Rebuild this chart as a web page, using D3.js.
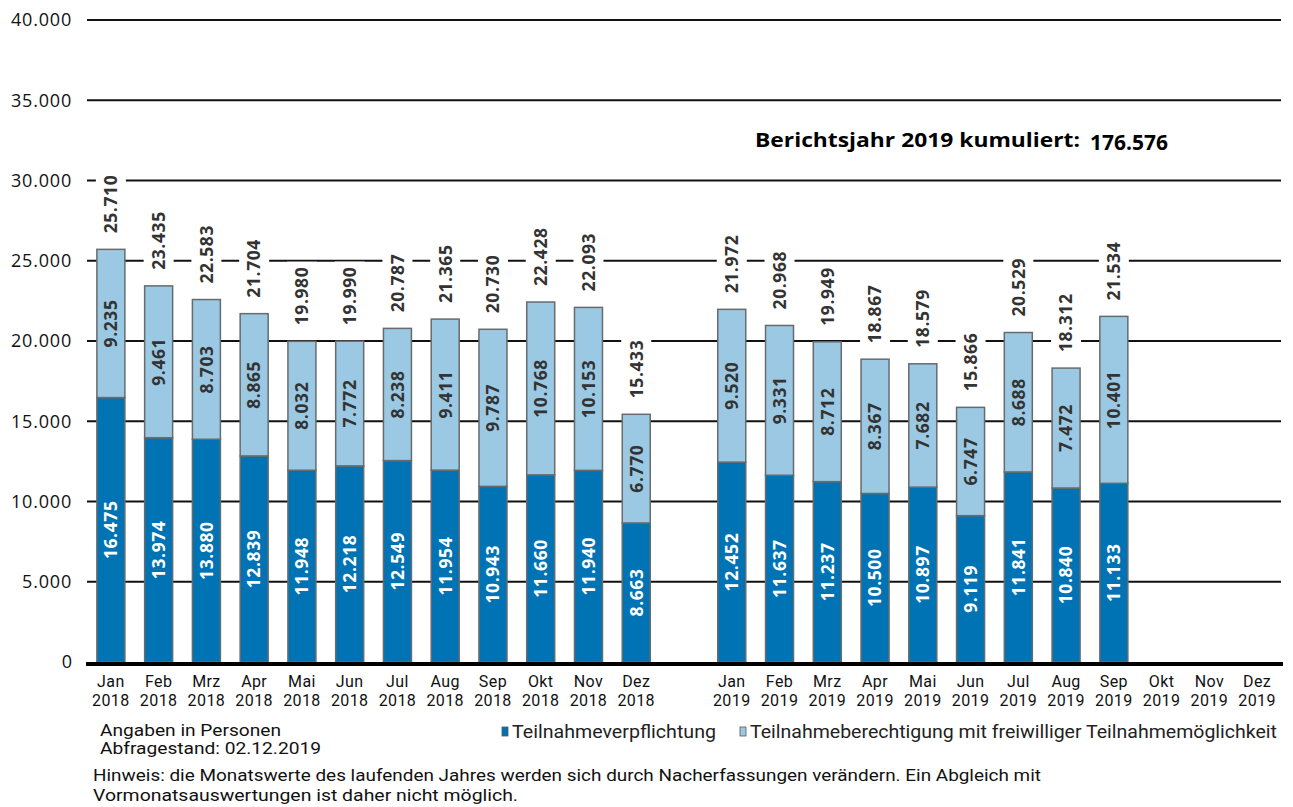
<!DOCTYPE html>
<html>
<head>
<meta charset="utf-8">
<script src="https://cdn.jsdelivr.net/npm/d3@7"></script>
<style>
  body { margin: 0; background: #fff; }
  svg { display: block; font-family: "Open Sans", "Noto Sans", sans-serif; }
</style>
</head>
<body>
<svg id="chart"></svg>
<script>
// data
const months = ["Jan", "Feb", "Mrz", "Apr", "Mai", "Jun", "Jul", "Aug", "Sep", "Okt", "Nov", "Dez"];
const years = ["2018", "2019"];
const pflicht2018 = [16475, 13974, 13880, 12839, 11948, 12218, 12549, 11954, 10943, 11660, 11940, 8663];
const freiwillig2018 = [9235, 9461, 8703, 8865, 8032, 7772, 8238, 9411, 9787, 10768, 10153, 6770];
const pflicht2019 = [12452, 11637, 11237, 10500, 10897, 9119, 11841, 10840, 11133];
const freiwillig2019 = [9520, 9331, 8712, 8367, 7682, 6747, 8688, 7472, 10401];
const yTicks = [0, 5000, 10000, 15000, 20000, 25000, 30000, 35000, 40000];
const kumuliert = 176576;
const seriesNames = ["Teilnahmeverpflichtung", "Teilnahmeberechtigung mit freiwilliger Teilnahmemöglichkeit"];
const colors = ["#0073b5", "#9bc9e3"];

const width = 1293, height = 807;
const fmt = v => d3.format(",")(v).replace(/,/g, ".");

// slots: 12 months 2018, one empty slot, 12 months 2019
const rows = [];
months.forEach((m, i) => rows.push({ key: m + "-" + years[0], month: m, year: years[0], a: pflicht2018[i], b: freiwillig2018[i] }));
rows.push({ key: "gap", month: "", year: "", a: null, b: null });
months.forEach((m, i) => rows.push({ key: m + "-" + years[1], month: m, year: years[1], a: pflicht2019[i] ?? null, b: freiwillig2019[i] ?? null }));

const svg = d3.select("#chart").attr("width", width).attr("height", height);

const x = d3.scaleBand().domain(rows.map(d => d.key)).range([87, 1281]).padding(0);
const y = d3.scaleLinear().domain([0, 40000]).range([662, 20]);
const barW = 28;
const cx = d => x(d.key) + x.bandwidth() / 2;

// gridlines
svg.append("g")
  .selectAll("line")
  .data(yTicks.filter(t => t > 0))
  .join("line")
  .attr("x1", 87).attr("x2", 1281)
  .attr("y1", d => y(d)).attr("y2", d => y(d))
  .attr("stroke", "#111").attr("stroke-width", 2);

// y tick labels
svg.append("g")
  .selectAll("text")
  .data(yTicks)
  .join("text")
  .attr("x", 72).attr("y", d => y(d))
  .attr("dy", "0.35em")
  .attr("text-anchor", "end")
  .attr("font-size", 18)
  .attr("letter-spacing", d => d === 0 ? 0 : 0.8)
  .attr("fill", "#111")
  .text(d => fmt(d));

const filled = rows.filter(d => d.a != null);
const stack = d3.stack().keys(["a", "b"])(filled);

// total labels with white box (cut the gridlines)
const totals = svg.append("g")
  .selectAll("g")
  .data(filled)
  .join("g")
  .attr("transform", d => `translate(${cx(d)},${y(d.a + d.b) - 16}) rotate(-90)`);

totals.append("text")
  .attr("x", 0).attr("y", 0)
  .attr("dy", "0.36em")
  .attr("font-size", 17.5)
  .attr("font-weight", "bold")
  .attr("letter-spacing", 0.6)
  .attr("fill", "#333")
  .text(d => fmt(d.a + d.b))
  .each(function () {
    const bb = this.getBBox();
    d3.select(this.parentNode).insert("rect", "text")
      .attr("x", bb.x - 5).attr("y", -15)
      .attr("width", bb.width + 10).attr("height", 30)
      .attr("fill", "#fff");
  });

// bars
svg.append("g")
  .selectAll("g")
  .data(stack)
  .join("g")
  .attr("fill", (d, i) => colors[i])
  .selectAll("rect")
  .data(d => d)
  .join("rect")
  .attr("x", d => cx(d.data) - barW / 2)
  .attr("y", d => y(d[1]))
  .attr("width", barW)
  .attr("height", d => y(d[0]) - y(d[1]))
  .attr("stroke", "#676b6e")
  .attr("stroke-width", 1.5);

// segment labels
svg.append("g")
  .selectAll("g")
  .data(stack)
  .join("g")
  .attr("fill", (d, i) => i === 0 ? "#fff" : "#333")
  .selectAll("text")
  .data(d => d)
  .join("text")
  .attr("transform", d => `translate(${cx(d.data)},${(y(d[0]) + y(d[1])) / 2}) rotate(-90)`)
  .attr("text-anchor", "middle")
  .attr("dy", "0.36em")
  .attr("font-size", 17.5)
  .attr("font-weight", "bold")
  .attr("letter-spacing", 0.6)
  .text(d => fmt(d[1] - d[0]));

// baseline
svg.append("line")
  .attr("x1", 86).attr("x2", 1283)
  .attr("y1", y(0) + 2).attr("y2", y(0) + 2)
  .attr("stroke", "#000").attr("stroke-width", 4);

// x labels (two lines: month, year)
const xg = svg.append("g")
  .attr("font-family", "Roboto, sans-serif")
  .attr("font-size", 16)
  .attr("letter-spacing", 0.4)
  .attr("text-anchor", "middle")
  .attr("fill", "#111");
const xRows = rows.filter(d => d.key !== "gap");
xg.selectAll("text.m").data(xRows).join("text").attr("class", "m")
  .attr("x", d => cx(d)).attr("y", 687).text(d => d.month);
xg.selectAll("text.y").data(xRows).join("text").attr("class", "y")
  .attr("x", d => cx(d)).attr("y", 706).text(d => d.year);

// kumuliert title
svg.append("text")
  .attr("x", 755).attr("y", 147)
  .attr("font-weight", "bold")
  .attr("font-size", 20)
  .attr("textLength", 325).attr("lengthAdjust", "spacingAndGlyphs")
  .attr("fill", "#000")
  .text("Berichtsjahr 2019 kumuliert:");
svg.append("text")
  .attr("x", 1090).attr("y", 150)
  .attr("font-weight", "bold")
  .attr("font-size", 21)
  .attr("textLength", 78).attr("lengthAdjust", "spacingAndGlyphs")
  .attr("fill", "#000")
  .text(fmt(kumuliert));

// legend
const legendX = [502, 740];
const legendW = [204, 527];
const lg = svg.append("g")
  .selectAll("g")
  .data(seriesNames)
  .join("g")
  .attr("transform", (d, i) => `translate(${legendX[i]},0)`);
lg.append("rect")
  .attr("x", 0).attr("y", 727).attr("width", 6).attr("height", 9)
  .attr("fill", (d, i) => colors[i])
  .attr("stroke", "#555").attr("stroke-width", 0.8);
lg.append("text")
  .attr("x", 10).attr("y", 738)
  .attr("font-family", "Roboto, sans-serif")
  .attr("font-size", 18)
  .attr("textLength", (d, i) => legendW[i]).attr("lengthAdjust", "spacingAndGlyphs")
  .attr("fill", "#222")
  .text(d => d);

// notes
const notes = svg.append("g")
  .attr("font-family", "Roboto, sans-serif")
  .attr("font-size", 17).attr("fill", "#111");
notes.append("text").attr("x", 100).attr("y", 736)
  .attr("font-size", 16)
  .attr("textLength", 181).attr("lengthAdjust", "spacingAndGlyphs")
  .text("Angaben in Personen");
notes.append("text").attr("x", 100).attr("y", 754)
  .attr("font-size", 16)
  .attr("textLength", 221).attr("lengthAdjust", "spacingAndGlyphs")
  .text("Abfragestand:  02.12.2019");
notes.append("text").attr("x", 93).attr("y", 781)
  .attr("textLength", 948).attr("lengthAdjust", "spacingAndGlyphs")
  .text("Hinweis: die Monatswerte des laufenden Jahres werden sich durch Nacherfassungen  verändern. Ein Abgleich mit");
notes.append("text").attr("x", 93).attr("y", 801)
  .attr("textLength", 425).attr("lengthAdjust", "spacingAndGlyphs")
  .text("Vormonatsauswertungen ist daher nicht möglich.");
</script>
</body>
</html>
